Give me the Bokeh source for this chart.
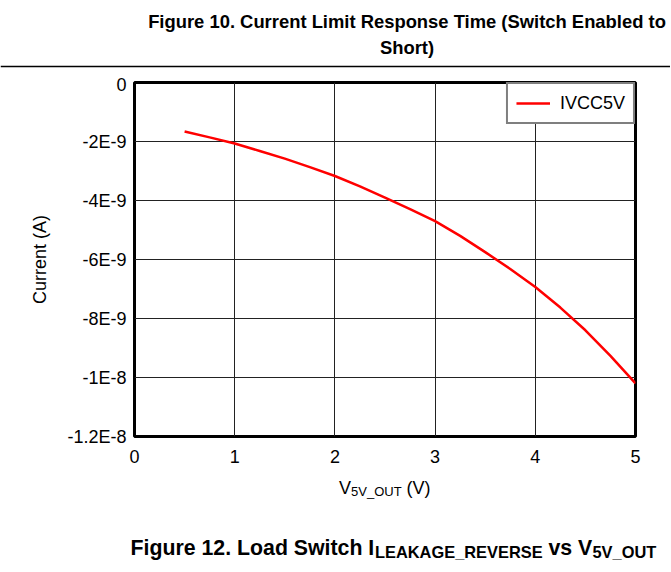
from bokeh.plotting import figure
from bokeh.layouts import column
from bokeh.models import Range1d, FixedTicker, Label, Span
from bokeh.embed import file_html
from bokeh.resources import INLINE

# ---------------- data ----------------
voltage = [0.5, 0.75, 1.0, 1.25, 1.5, 1.75, 2.0, 2.25, 2.5, 2.75,
           3.0, 3.25, 3.5, 3.75, 4.0, 4.25, 4.5, 4.75, 5.0]
current = [-1.66e-9, -1.86e-9, -2.07e-9, -2.32e-9, -2.58e-9, -2.87e-9, -3.17e-9,
           -3.52e-9, -3.90e-9, -4.29e-9, -4.70e-9, -5.20e-9, -5.75e-9, -6.32e-9,
           -6.93e-9, -7.63e-9, -8.40e-9, -9.27e-9, -10.2e-9]
series_name = "IVCC5V"
x_ticks = [0, 1, 2, 3, 4, 5]
y_ticks = [0, -2e-9, -4e-9, -6e-9, -8e-9, -1e-8, -1.2e-8]
y_tick_labels = ["0", "-2E-9", "-4E-9", "-6E-9", "-8E-9", "-1E-8", "-1.2E-8"]
title_lines = ["Figure 10. Current Limit Response Time (Switch Enabled to", "Short)"]
y_label = "Current (A)"
x_label_parts = ["V", "5V_OUT", "(V)"]
caption_parts = ["Figure 12. Load Switch I", "LEAKAGE_REVERSE", "vs V", "5V_OUT"]

SCALE = 1e-9  # plot y in units of 1e-9 A so tick overrides match exactly
cur_n = [c / SCALE for c in current]
yt_n = [round(t / SCALE) for t in y_ticks]

FONT = "Liberation Sans"
W = 670
H_TOP, H_MAIN, H_BOT = 74, 396, 101
FL, FR = 134, 635          # frame left/right (px)
FT, FB = 82 - H_TOP, 436 - H_TOP  # frame top/bottom inside main figure


def text_fig(h):
    f = figure(width=W, height=h, output_backend="svg", toolbar_location=None,
               x_range=Range1d(0, W), y_range=Range1d(h, 0),
               x_axis_type=None, y_axis_type=None, frame_align=False,
               min_border=0, min_border_left=0, min_border_right=0,
               min_border_top=0, min_border_bottom=0)
    f.outline_line_color = None
    f.background_fill_color = "white"
    f.border_fill_color = "white"
    f.grid.visible = False
    return f


def lab(f, text, x, y, size, bold=False, align="left"):
    f.add_layout(Label(x=x, y=y, text=text, text_font=FONT, text_font_size=size,
                       text_font_style="bold" if bold else "normal",
                       text_color="black", text_align=align,
                       text_baseline="alphabetic"))


# ---------------- title block ----------------
top = text_fig(H_TOP)
lab(top, title_lines[0], 406.5, 21, "18.4px", bold=True, align="center")
lab(top, title_lines[1], 406.5, 47, "18.4px", bold=True, align="center")
top.add_layout(Span(location=66, dimension="width", line_color="black", line_width=1.5))

# ---------------- main chart ----------------
p = figure(width=W, height=H_MAIN, output_backend="svg", toolbar_location=None,
           x_range=Range1d(0, 5), y_range=Range1d(-12, 0), frame_align=False,
           min_border_left=FL, min_border_top=FT,
           min_border_right=W - FR, min_border_bottom=H_MAIN - FB)
p.background_fill_color = "white"
p.border_fill_color = "white"
p.outline_line_color = "black"
p.outline_line_width = 3

p.xaxis.ticker = FixedTicker(ticks=x_ticks)
p.yaxis.ticker = FixedTicker(ticks=yt_n)
p.yaxis.major_label_overrides = {t: s for t, s in zip(yt_n, y_tick_labels)}
for ax in (p.xaxis, p.yaxis):
    ax.axis_line_color = None
    ax.major_tick_line_color = None
    ax.minor_tick_line_color = None
    ax.major_tick_in = 0
    ax.major_tick_out = 0
    ax.major_label_text_font = FONT
    ax.major_label_text_font_size = "18px"
    ax.major_label_text_color = "black"
p.xaxis.major_label_standoff = 13
p.yaxis.major_label_standoff = 8
p.yaxis.axis_label = y_label
p.yaxis.axis_label_text_font = FONT
p.yaxis.axis_label_text_font_size = "18px"
p.yaxis.axis_label_text_font_style = "normal"
p.yaxis.axis_label_text_color = "black"
p.yaxis.axis_label_standoff = 14

p.grid.grid_line_color = "#222222"
p.grid.grid_line_width = 1

p.line(voltage, cur_n, line_color="#ff0000", line_width=2.5, legend_label=series_name)

lg = p.legend[0]
lg.location = "top_right"
lg.margin = 0
lg.padding = 8
lg.spacing = 0
lg.glyph_width = 34
lg.glyph_height = 22
lg.label_height = 22
lg.label_standoff = 10
lg.label_text_font = FONT
lg.label_text_font_size = "18px"
lg.label_text_color = "black"
lg.border_line_color = "black"
lg.border_line_width = 2
lg.background_fill_alpha = 1

# ---------------- x label (with subscript) + caption ----------------
bot = text_fig(H_BOT)
y0 = H_TOP + H_MAIN  # page y of the bottom block
lab(bot, x_label_parts[0], 338.5, 487 - y0, "18px")
lab(bot, x_label_parts[1], 350.5, 491 - y0, "13px")
lab(bot, x_label_parts[2], 406.0, 487 - y0, "18px")

lab(bot, caption_parts[0], 130.0, 547 - y0, "21.3px", bold=True)
lab(bot, caption_parts[1], 374.5, 551 - y0, "16.4px", bold=True)
lab(bot, caption_parts[2], 548.0, 547 - y0, "21.3px", bold=True)
lab(bot, caption_parts[3], 592.0, 551 - y0, "16.4px", bold=True)

layout = column(top, p, bot, spacing=0)
open("out.html", "w").write(file_html(layout, INLINE))
